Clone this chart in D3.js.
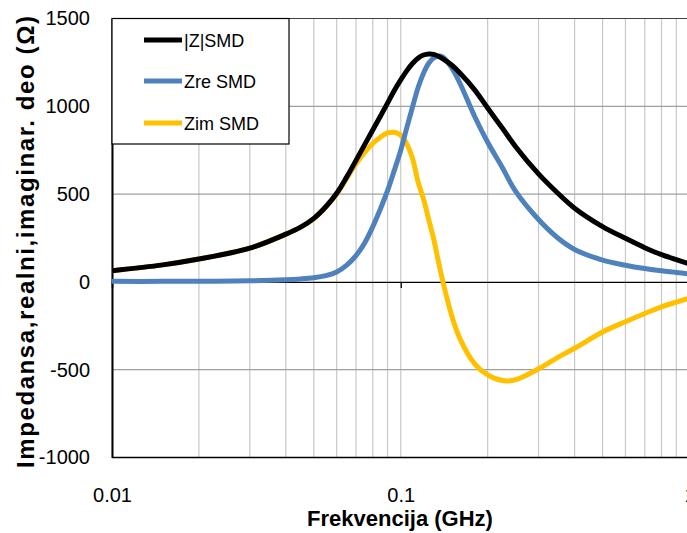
<html>
  <head>
    <style>
    body {
      margin: 0px;
      background: white;
    }
    svg text {
      font-family: "Liberation Sans", Arial, sans-serif;
    }
    </style>
  </head>
  <body>
    <div id="elm"></div>

    <script src="https://cdn.jsdelivr.net/npm/d3@7"></script>
    <script>
    'use strict';

    // frequency samples (GHz)
    var freq = [0.01, 0.015, 0.02, 0.03, 0.04, 0.045, 0.05, 0.055, 0.06, 0.065, 0.07, 0.075, 0.08, 0.085, 0.09, 0.095,
                0.1, 0.105, 0.11, 0.115, 0.12, 0.125, 0.13, 0.135, 0.14, 0.15, 0.16, 0.18, 0.2, 0.225,
                0.25, 0.3, 0.35, 0.4, 0.5, 0.6, 0.7, 0.8, 0.9, 1.0];

    var zAbs = [64, 97, 130, 192, 272, 312, 362, 428, 505, 598, 692, 782, 865, 943, 1018, 1090,
                1150, 1203, 1245, 1275, 1292, 1298, 1296, 1285, 1270, 1235, 1191, 1095, 990, 875,
                770, 615, 505, 420, 315, 248, 195, 155, 127, 103];

    var zRe = [3, 3, 4, 6, 12, 17, 24, 36, 57, 96, 150, 222, 314, 415, 520, 635,
               750, 880, 1000, 1110, 1190, 1245, 1275, 1286, 1280, 1220, 1134, 945, 795, 650,
               515, 355, 250, 185, 124, 95, 76, 63, 54, 45];

    var zIm = [64, 97, 130, 192, 272, 312, 360, 425, 500, 590, 672, 737, 788, 824, 848, 852,
               835, 785, 700, 565, 470, 355, 245, 117, 0, -190, -320, -465, -530, -562,
               -557, -495, -430, -378, -285, -227, -180, -142, -115, -93];

    var seriesNames = ['|Z|SMD', 'Zre SMD', 'Zim SMD'];
    var seriesColors = ['#000000', '#4f81bd', '#ffc000'];
    var yTicks = [-1000, -500, 0, 500, 1000, 1500];
    var xTicks = [0.01, 0.1, 1];

    var W = 687, H = 533;
    var pL = 112, pR = 689.5, pT = 18.5, pB = 457.5;

    var svg = d3.select('#elm').append('svg')
      .attr('width', W).attr('height', H);

    var x = d3.scaleLog().domain([0.01, 1]).range([pL, pR]);
    var y = d3.scaleLinear().domain([-1000, 1500]).range([pB, pT]);

    svg.append('clipPath').attr('id', 'plot')
      .append('rect').attr('x', pL).attr('y', pT - 5)
      .attr('width', pR - pL).attr('height', pB - pT + 10);

    // vertical grid (minor log lines)
    svg.append('g').selectAll('line')
      .data(x.ticks())
      .join('line')
        .attr('x1', d => x(d)).attr('x2', d => x(d))
        .attr('y1', pT).attr('y2', pB)
        .attr('stroke', '#c8c8c8').attr('stroke-width', 1.2);

    // horizontal grid
    svg.append('g').selectAll('line')
      .data([-500, 500, 1000])
      .join('line')
        .attr('x1', pL).attr('x2', pR)
        .attr('y1', d => y(d)).attr('y2', d => y(d))
        .attr('stroke', '#a0a0a0').attr('stroke-width', 1.2);

    svg.append('line')
      .attr('x1', pL).attr('x2', pR)
      .attr('y1', y(1500)).attr('y2', y(1500))
      .attr('stroke', '#404040').attr('stroke-width', 1.2);

    svg.append('line')
      .attr('x1', pL).attr('x2', pR)
      .attr('y1', y(-1000)).attr('y2', y(-1000))
      .attr('stroke', '#000').attr('stroke-width', 1.5);

    // x axis crossing at 0 with small ticks
    svg.append('g')
      .attr('transform', 'translate(0,' + y(0) + ')')
      .call(d3.axisBottom(x).tickValues(xTicks).tickSize(6).tickFormat(''))
      .call(g => g.selectAll('path, line').attr('stroke', '#000').attr('stroke-width', 1.3));

    // x labels at bottom
    svg.append('g')
      .attr('transform', 'translate(0,' + pB + ')')
      .call(d3.axisBottom(x).tickValues(xTicks).tickSize(0).tickPadding(30)
        .tickFormat(d => String(d)))
      .call(g => g.select('.domain').remove())
      .call(g => g.selectAll('text').attr('font-size', 20).attr('fill', '#000')
        .style('font-family', '"Liberation Sans", Arial, sans-serif'));

    // y axis
    svg.append('g')
      .attr('transform', 'translate(' + pL + ',0)')
      .call(d3.axisLeft(y).tickValues(yTicks).tickSize(0).tickPadding(22)
        .tickFormat(d => String(d)))
      .call(g => g.select('.domain').attr('stroke', '#000').attr('stroke-width', 2))
      .call(g => g.selectAll('text').attr('font-size', 20).attr('fill', '#000')
        .style('font-family', '"Liberation Sans", Arial, sans-serif'));

    // series
    var all = [zAbs, zRe, zIm];
    var line = d3.line()
      .x((d, i) => x(freq[i]))
      .y(d => y(d))
      .curve(d3.curveCatmullRom.alpha(0.5));

    var order = [2, 1, 0];
    svg.append('g').attr('clip-path', 'url(#plot)')
      .selectAll('path')
      .data(order)
      .join('path')
        .attr('d', k => line(all[k]))
        .attr('fill', 'none')
        .attr('stroke', k => seriesColors[k])
        .attr('stroke-width', 5)
        .attr('stroke-linejoin', 'round');

    // legend
    var lg = svg.append('g');
    lg.append('rect')
      .attr('x', pL).attr('y', pT)
      .attr('width', 289 - pL).attr('height', 144 - pT)
      .attr('fill', 'white').attr('stroke', '#000').attr('stroke-width', 1.2);
    seriesNames.forEach(function(name, i) {
      var ly = [40, 81, 123][i];
      lg.append('line')
        .attr('x1', 144).attr('x2', 182).attr('y1', ly).attr('y2', ly)
        .attr('stroke', seriesColors[i]).attr('stroke-width', 5);
      lg.append('text')
        .attr('x', 184).attr('y', ly + 6.5)
        .attr('font-size', 18).text(name);
    });

    // axis titles
    svg.append('text')
      .attr('x', 400).attr('y', 526)
      .attr('text-anchor', 'middle')
      .attr('font-size', 22).attr('font-weight', 'bold')
      .text('Frekvencija (GHz)');

    svg.append('text')
      .attr('transform', 'translate(34,242) rotate(-90)')
      .attr('text-anchor', 'middle')
      .attr('font-size', 24).attr('font-weight', 'bold')
      .attr('textLength', 452).attr('lengthAdjust', 'spacing')
      .text('Impedansa,realni,imaginar. deo (Ω)');
    </script>
  </body>
</html>
